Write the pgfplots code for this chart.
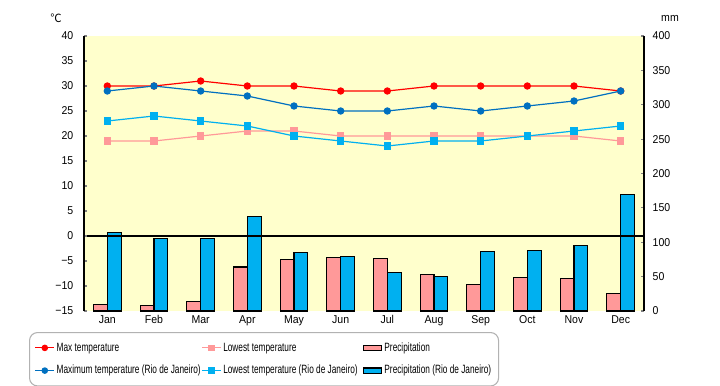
\documentclass[border=0pt]{standalone}
\usepackage{fontspec}
\setmainfont{Liberation Sans}[FakeStretch=0.69]
\newfontfamily\tickfont{Liberation Sans}[FakeStretch=0.93]
\newfontfamily\cjk{Noto Sans CJK JP}
\usepackage{pgfplots}
\pgfplotsset{compat=1.18}
\definecolor{bgyellow}{HTML}{FFFFCC}
\definecolor{pinkbar}{HTML}{FF9999}
\definecolor{bluebar}{HTML}{00B0F0}
\definecolor{darkblue}{HTML}{0070C0}
\definecolor{redline}{HTML}{FF0000}
\pgfplotsset{
  mylinelegend/.style={legend image code/.code={
    \draw[sharp corners,##1,mark repeat=2,mark phase=2] plot coordinates {(0pt,0pt) (7pt,0pt) (14pt,0pt)};}},
  mybarlegend/.style={legend image code/.code={
    \draw[sharp corners,##1] (0pt,-2pt) rectangle (14pt,2pt);}},
}
\begin{document}
\begin{tikzpicture}
\useasboundingbox (-63pt,-55.5pt) rectangle (477pt,233.25pt);
% precipitation axis (right)
\begin{axis}[
  at={(0,0)}, anchor=south west, scale only axis,
  width=420pt, height=206.25pt,
  xmin=0, xmax=12, ymin=0, ymax=400,
  axis y line*=right, axis x line=none,
  axis background/.style={fill=bgyellow},
  ytick={0,50,...,400},
  tick align=inside, major tick length=2.5pt,
  y axis line style={line width=0.8pt},
  ytick style={line width=0.8pt},
  yticklabel style={font=\tickfont\fontsize{8.5}{10}\selectfont, xshift=3pt},
  /pgf/number format/assume math mode=true,
  xtick=\empty,
  clip=false,
]
\addplot[ybar, bar width=10.3pt, bar shift=-5.15pt, fill=pinkbar, draw=black, line width=0.8pt]
  coordinates {(0.5,9) (1.5,8) (2.5,14) (3.5,64) (4.5,75) (5.5,78) (6.5,76) (7.5,53) (8.5,38) (9.5,49) (10.5,47) (11.5,25)};
\addplot[ybar, bar width=10.3pt, bar shift=5.15pt, fill=bluebar, draw=black, line width=0.8pt]
  coordinates {(0.5,114) (1.5,105) (2.5,105) (3.5,137) (4.5,85) (5.5,79) (6.5,56) (7.5,50) (8.5,86) (9.5,88) (10.5,95) (11.5,169)};
\draw[black, line width=0.8pt] (rel axis cs:0,0.272727) -- (rel axis cs:1,0.272727);
\end{axis}
% temperature axis (left)
\begin{axis}[
  at={(0,0)}, anchor=south west, scale only axis,
  width=420pt, height=206.25pt,
  xmin=0, xmax=12, ymin=-15, ymax=40,
  axis y line*=left, axis x line*=bottom,
  x axis line style={draw=none},
  ytick={-15,-10,...,40},
  yticklabels={−15,−10,−5,0,5,10,15,20,25,30,35,40},
  tick align=inside, major tick length=2.5pt,
  y axis line style={line width=0.8pt},
  ytick style={line width=0.8pt},
  xtick={0.5,1.5,...,11.5},
  xticklabels={Jan,Feb,Mar,Apr,May,Jun,Jul,Aug,Sep,Oct,Nov,Dec},
  major x tick style={draw=none},
  yticklabel style={font=\tickfont\fontsize{8.5}{10}\selectfont, xshift=-4.5pt},
  xticklabel style={font=\tickfont\fontsize{8.5}{10}\selectfont},
  clip=false,
  legend columns=3,
  legend cell align=left,
  legend style={at={(axis description cs:-0.0982,-0.0764)}, anchor=north west,
    draw=gray!60, line width=0.8pt, rounded corners=6pt,
    font=\fontsize{9}{10}\selectfont,
    inner xsep=4pt, inner ysep=6.5pt, row sep=7pt,
    nodes={inner xsep=1.5pt, inner ysep=1pt}},
]
\addplot[forget plot, redline, line width=0.9pt, mark=*, mark size=2.3pt]
  coordinates {(0.5,30) (1.5,30) (2.5,31) (3.5,30) (4.5,30) (5.5,29) (6.5,29) (7.5,30) (8.5,30) (9.5,30) (10.5,30) (11.5,29)};
\addplot[forget plot, pinkbar, line width=0.9pt, mark=square*, mark size=2.4pt]
  coordinates {(0.5,19) (1.5,19) (2.5,20) (3.5,21) (4.5,21) (5.5,20) (6.5,20) (7.5,20) (8.5,20) (9.5,20) (10.5,20) (11.5,19)};
\addplot[forget plot, darkblue, line width=0.9pt, mark=*, mark size=2.3pt]
  coordinates {(0.5,29) (1.5,30) (2.5,29) (3.5,28) (4.5,26) (5.5,25) (6.5,25) (7.5,26) (8.5,25) (9.5,26) (10.5,27) (11.5,29)};
\addplot[forget plot, bluebar, line width=0.9pt, mark=square*, mark size=2.4pt]
  coordinates {(0.5,23) (1.5,24) (2.5,23) (3.5,22) (4.5,20) (5.5,19) (6.5,18) (7.5,19) (8.5,19) (9.5,20) (10.5,21) (11.5,22)};
\addlegendimage{mylinelegend, redline, line width=0.9pt, mark=*, mark size=2pt}
\addlegendentry{\makebox[107pt][l]{Max temperature}}
\addlegendimage{mylinelegend, pinkbar, line width=0.9pt, mark=square*, mark size=2pt}
\addlegendentry{\makebox[103pt][l]{Lowest temperature}}
\addlegendimage{mybarlegend, fill=pinkbar, draw=black, line width=0.9pt}
\addlegendentry{Precipitation}
\addlegendimage{mylinelegend, darkblue, line width=0.9pt, mark=*, mark size=2pt}
\addlegendentry{\makebox[107pt][l]{Maximum temperature (Rio de Janeiro)}}
\addlegendimage{mylinelegend, bluebar, line width=0.9pt, mark=square*, mark size=2pt}
\addlegendentry{\makebox[103pt][l]{Lowest temperature (Rio de Janeiro)}}
\addlegendimage{mybarlegend, fill=bluebar, draw=black, line width=0.9pt}
\addlegendentry{Precipitation (Rio de Janeiro)}
\end{axis}
\node[font=\cjk\fontsize{8.5}{10}\selectfont] at (-21pt,219.75pt) {℃};
\node[font=\tickfont\fontsize{8.5}{10}\selectfont] at (439.5pt,219.75pt) {mm};
\end{tikzpicture}
\end{document}
